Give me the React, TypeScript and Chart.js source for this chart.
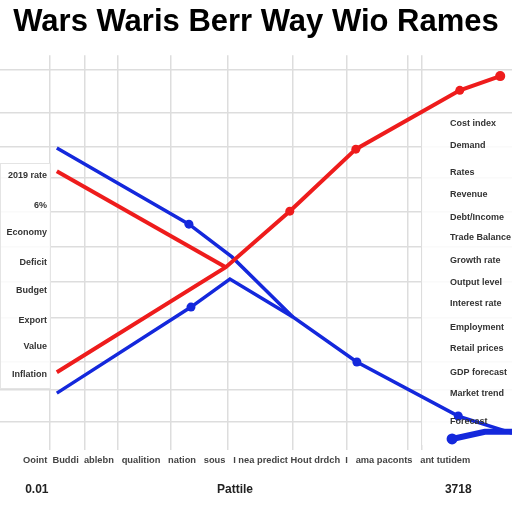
import { useEffect, useRef } from 'react';
import Chart from 'chart.js/auto';

// values (x: 0-100 across, y: 0-100 up)
const redFallX = [11.1, 44.1];
const redFallY = [70.6, 46.3];
const redRiseX = [11.1, 44.1, 56.6, 69.5, 89.8, 97.7];
const redRiseY = [19.7, 46.3, 60.5, 76.2, 91.1, 94.7];
const blueFallX = [11.1, 36.9, 45.3, 57.2, 69.7, 89.5, 100];
const blueFallY = [76.5, 57.2, 48.9, 33.7, 22.3, 8.6, 4.3];
const blueRiseX = [11.1, 37.3, 44.9, 57.2];
const blueRiseY = [14.4, 36.2, 43.3, 33.7];
const blueTailX = [88.3, 94.7, 100];
const blueTailY = [2.8, 4.6, 4.6];

const gridX = [9.8, 16.6, 23, 33.4, 44.5, 57.2, 67.8, 79.7, 82.4];
const gridY = [7.1, 15.2, 22.3, 33.4, 42.5, 51.4, 60.3, 68.9, 76.7, 85.3, 96.2];

const titleText = 'Wars Waris Berr Way Wio Rames';
const leftLabels = ['2019 rate', '6%', 'Economy', 'Deficit', 'Budget', 'Export', 'Value', 'Inflation'];
const leftLabelY = [69.6, 62.0, 55.2, 47.6, 40.5, 32.9, 26.1, 19.0];
const rightLabels = [
  'Cost index', 'Demand', 'Rates', 'Revenue', 'Debt/Income', 'Trade Balance', 'Growth rate',
  'Output level', 'Interest rate', 'Employment', 'Retail prices', 'GDP forecast', 'Market trend', 'Forecast',
];
const rightLabelY = [82.8, 77.2, 70.4, 64.6, 59.0, 53.9, 48.1, 42.5, 37.2, 31.1, 25.8, 19.7, 14.4, 7.1];
const footRow =
  'Ooint  Buddi  ablebn   qualition   nation   sous   I nea predict Hout drdch  I   ama paconts   ant tutidem';
const footLabels = ['0.01', 'Pattile', '3718'];
const footLabelX = [7.2, 45.9, 89.5];

const RED = '#ee1c1c';
const BLUE = '#1428dc';

const pts = (xs: number[], ys: number[]) => xs.map((x, i) => ({ x, y: ys[i] }));

const textPlugin = {
  id: 'sideText',
  beforeDatasetsDraw(chart: any) {
    const ctx = chart.ctx;
    ctx.save();
    ctx.fillStyle = 'rgba(255,255,255,0.85)';
    ctx.fillRect(0, 163, 50, 225);
    ctx.fillRect(422, 115, 90, 330);
    ctx.strokeStyle = '#e4e4e4';
    ctx.lineWidth = 1;
    ctx.strokeRect(0.5, 163.5, 50, 225);
    ctx.restore();
  },
  afterDatasetsDraw(chart: any) {
    const ctx = chart.ctx;
    const xs = chart.scales.x;
    const ys = chart.scales.y;
    ctx.save();
    ctx.fillStyle = '#333';
    ctx.textBaseline = 'middle';
    ctx.font = 'bold 9px "Liberation Sans"';
    ctx.textAlign = 'right';
    leftLabels.forEach((t, i) => ctx.fillText(t, 47, ys.getPixelForValue(leftLabelY[i])));
    ctx.textAlign = 'left';
    rightLabels.forEach((t, i) => ctx.fillText(t, 450, ys.getPixelForValue(rightLabelY[i])));
    ctx.font = 'bold 9.3px "Liberation Sans"';
    ctx.fillStyle = '#444';
    ctx.fillText(footRow, 23, 460);
    ctx.font = 'bold 12px "Liberation Sans"';
    ctx.fillStyle = '#222';
    ctx.textAlign = 'center';
    footLabels.forEach((t, i) => ctx.fillText(t, xs.getPixelForValue(footLabelX[i]), 490));
    ctx.restore();
  },
};

const App = () => {
  const canvasRef = useRef<HTMLCanvasElement | null>(null);

  useEffect(() => {
    if (!canvasRef.current) return;
    const line = (data: any, color: string, radius: number[], width = 3.5) => ({
      data,
      showLine: true,
      borderColor: color,
      backgroundColor: color,
      borderWidth: width,
      pointRadius: radius,
      pointBorderWidth: 0,
      tension: 0,
    });
    const chart = new Chart(canvasRef.current, {
      type: 'scatter',
      data: {
        datasets: [
          line(pts(redFallX, redFallY), RED, [0, 0], 4),
          line(pts(redRiseX, redRiseY), RED, [0, 0, 4.5, 4.5, 4.5, 5], 4),
          line(pts(blueFallX, blueFallY), BLUE, [0, 4.5, 0, 0, 4.5, 4.5, 0]),
          line(pts(blueRiseX, blueRiseY), BLUE, [0, 4.5, 0, 0]),
          line(pts(blueTailX, blueTailY), BLUE, [5.5, 0, 0], 6),
        ],
      },
      options: {
        responsive: false,
        animation: false,
        layout: { autoPadding: false, padding: { left: 0, right: 0, top: 0, bottom: 62 } },
        plugins: {
          legend: { display: false },
          tooltip: { enabled: false },
          title: {
            display: true,
            text: titleText,
            color: '#000',
            font: { family: '"Liberation Sans"', size: 31, weight: 'bold' },
            padding: { top: 4, bottom: 14 },
          },
        },
        scales: {
          x: {
            type: 'linear',
            min: 0,
            max: 100,
            afterBuildTicks: (s: any) => { s.ticks = gridX.map((v) => ({ value: v })); },
            ticks: { display: false },
            grid: { color: '#dddddd', lineWidth: 1.5, drawTicks: false },
            border: { display: false },
          },
          y: {
            min: 0,
            max: 100,
            afterBuildTicks: (s: any) => { s.ticks = gridY.map((v) => ({ value: v })); },
            ticks: { display: false },
            grid: { color: '#dddddd', lineWidth: 1.5, drawTicks: false },
            border: { display: false },
          },
        },
      },
      plugins: [textPlugin],
    });
    return () => chart.destroy();
  }, []);

  return (
    <div style={{ position: 'fixed', left: 0, top: 0, width: 512, height: 512, background: '#fff' }}>
      <canvas ref={canvasRef} width={512} height={512}></canvas>
    </div>
  );
};

export default App;
